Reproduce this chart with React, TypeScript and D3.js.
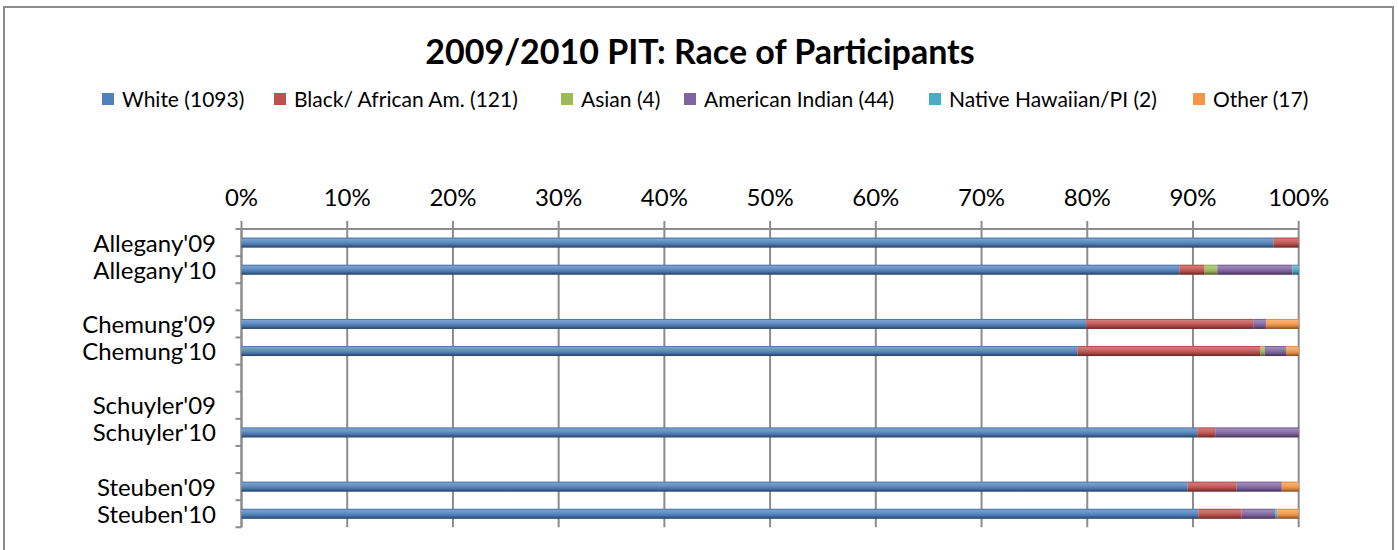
import React from "react";
import * as d3 from "d3";

const categories = [
  "Allegany'09",
  "Allegany'10",
  "",
  "Chemung'09",
  "Chemung'10",
  "",
  "Schuyler'09",
  "Schuyler'10",
  "",
  "Steuben'09",
  "Steuben'10",
];

const seriesNames = [
  "White (1093)",
  "Black/ African Am. (121)",
  "Asian (4)",
  "American Indian (44)",
  "Native Hawaiian/PI (2)",
  "Other (17)",
];

// percent shares per category
const white = [97.6, 88.7, 0, 79.9, 79.1, 0, 0, 90.4, 0, 89.5, 90.5];
const black = [2.4, 2.4, 0, 15.8, 17.3, 0, 0, 1.7, 0, 4.6, 4.1];
const asian = [0, 1.2, 0, 0, 0.4, 0, 0, 0, 0, 0, 0];
const amIndian = [0, 7.1, 0, 1.2, 2.0, 0, 0, 7.9, 0, 4.3, 3.2];
const nhpi = [0, 0.6, 0, 0, 0, 0, 0, 0, 0, 0, 0.2];
const other = [0, 0, 0, 3.1, 1.2, 0, 0, 0, 0, 1.6, 2.0];

const seriesValues = [white, black, asian, amIndian, nhpi, other];
const colors = ["#4F81BD", "#C0504D", "#9BBB59", "#8064A2", "#4BACC6", "#F79646"];
const tickValues = [0, 10, 20, 30, 40, 50, 60, 70, 80, 90, 100];

const legendX = [102, 274, 561, 684, 929, 1193];

export default function App() {
  const W = 1398;
  const H = 550;
  const left = 241.5;
  const right = 1298.7;
  const top = 229;
  const bottom = 527.3;
  const font = "Lato, 'Open Sans', sans-serif";

  const x = d3.scaleLinear().domain([0, 100]).range([left, right]);
  const y = d3
    .scaleBand()
    .domain(categories.map((c, i) => String(i)))
    .range([top, bottom])
    .paddingInner(0)
    .paddingOuter(0);
  const barH = 10;

  const stackData = categories.map((c, i) => {
    const o: any = { key: String(i) };
    seriesValues.forEach((s, j) => (o["s" + j] = s[i]));
    return o;
  });
  const stack = d3.stack<any>().keys(seriesValues.map((_, j) => "s" + j));
  const layers = stack(stackData);

  return (
    <svg
      width={W}
      height={H}
      style={{ position: "absolute", left: 0, top: 0, display: "block", background: "#fff" }}
    >
      <defs>
        <linearGradient id="shade" x1="0" y1="0" x2="0" y2="1">
          <stop offset="0" stopColor="#000" stopOpacity="0.05" />
          <stop offset="0.15" stopColor="#fff" stopOpacity="0.25" />
          <stop offset="0.45" stopColor="#fff" stopOpacity="0.1" />
          <stop offset="0.7" stopColor="#000" stopOpacity="0.1" />
          <stop offset="1" stopColor="#000" stopOpacity="0.5" />
        </linearGradient>
      </defs>
      <rect x={4} y={7} width={1389} height={600} fill="#fff" stroke="#8c8c8c" strokeWidth={2} />

      <text
        x={700}
        y={64}
        textAnchor="middle"
        fontFamily={font}
        fontWeight="bold"
        fontSize={34}
        fill="#000"
      >
        2009/2010 PIT: Race of Participants
      </text>

      {seriesNames.map((n, j) => (
        <g key={n}>
          <rect x={legendX[j]} y={93} width={12} height={12} fill={colors[j]} />
          <text x={legendX[j] + 20} y={107} fontFamily={font} fontSize={21} fill="#000">
            {n}
          </text>
        </g>
      ))}

      {/* gridlines */}
      {tickValues.map((t) => (
        <line key={"g" + t} x1={x(t)} x2={x(t)} y1={top - 8} y2={bottom} stroke="#8c8c8c" strokeWidth={2} />
      ))}
      {/* top axis line */}
      <line x1={left} x2={right} y1={top} y2={top} stroke="#8c8c8c" strokeWidth={2} />
      {tickValues.map((t) => (
        <text key={"t" + t} x={x(t)} y={206} textAnchor="middle" fontFamily={font} fontSize={24} fill="#000">
          {t + "%"}
        </text>
      ))}

      {/* category axis */}
      <line x1={left} x2={left} y1={top} y2={bottom} stroke="#8c8c8c" strokeWidth={2} />
      {d3.range(categories.length + 1).map((i) => {
        const yy = top + i * y.bandwidth();
        return <line key={"ct" + i} x1={left - 6} x2={left} y1={yy} y2={yy} stroke="#8c8c8c" strokeWidth={2} />;
      })}
      {categories.map((c, i) =>
        c ? (
          <text
            key={"c" + i}
            x={216}
            y={(y(String(i)) as number) + y.bandwidth() / 2 + 9}
            textAnchor="end"
            fontFamily={font}
            fontSize={24}
            fill="#000"
          >
            {c}
          </text>
        ) : null
      )}

      {/* bars */}
      {layers.map((layer, j) => (
        <g key={"l" + j}>
          {layer.map((d: any, i: number) => {
            const w = x(d[1]) - x(d[0]);
            if (w <= 0) return null;
            const yy = (y(String(i)) as number) + y.bandwidth() / 2 - barH / 2;
            return (
              <g key={i}>
                <rect x={x(d[0])} y={yy} width={w} height={barH} fill={colors[j]} />
                <rect x={x(d[0])} y={yy} width={w} height={barH} fill="url(#shade)" />
              </g>
            );
          })}
        </g>
      ))}
    </svg>
  );
}
